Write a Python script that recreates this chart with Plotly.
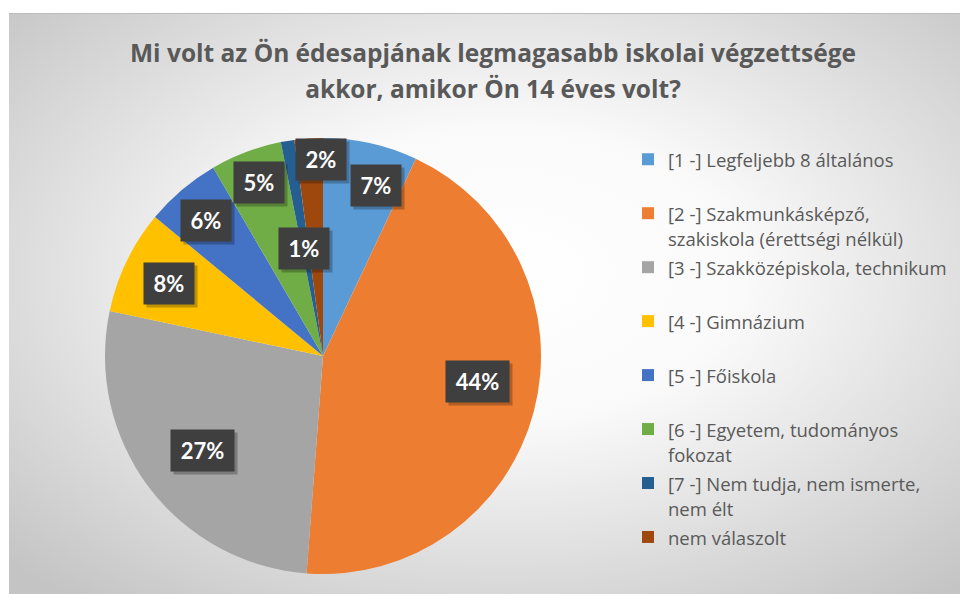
import base64
import math
import plotly.graph_objects as go

# ---------------- data ----------------
categories = [
    "[1 -] Legfeljebb 8 általános",
    "[2 -] Szakmunkásképző,<br>szakiskola (érettségi nélkül)",
    "[3 -] Szakközépiskola, technikum",
    "[4 -] Gimnázium",
    "[5 -] Főiskola",
    "[6 -] Egyetem, tudományos<br>fokozat",
    "[7 -] Nem tudja, nem ismerte,<br>nem élt",
    "nem válaszolt",
]
shares = [7.0, 44.2, 27.1, 7.7, 5.6, 5.3, 1.0, 2.1]
colors = ["#5B9BD5", "#ED7D31", "#A5A5A5", "#FFC000", "#4472C4", "#70AD47", "#255E91", "#9E480E"]
title_lines = ["Mi volt az Ön édesapjának legmagasabb iskolai végzettsége",
               "akkor, amikor Ön 14 éves volt?"]

# label placement style (radial fraction of radius, angle offset in degrees)
label_radius = [0.82, 0.72, 0.70, 0.78, 0.82, 0.85, 0.50, 0.90]
label_angle_shift = [4.7, -5.3, -1.2, -0.6, -0.4, 0.5, -0.6, 3.2]

# ---------------- geometry ----------------
W, H = 960, 594
cx, cy, R = 323, 356, 218

LEG_TXT = 18.5    # visible legend font size
LEG_ROW = 19.6    # layout font size -> row spacing
TTL_TXT = 24.5
TTL_ROW = 27.7


def leg_label(c):
    lines = c.split("<br>")
    if len(lines) == 1:
        lines.append(" ")
    return "<br>".join(f"<span style='font-size:{LEG_TXT}px'>{l}</span>" for l in lines)


legend_labels = [leg_label(c) for c in categories]
title_text = "<br>".join(f"<span style='font-size:{TTL_TXT}px'><b>{l}</b></span>" for l in title_lines)

fig = go.Figure()

fig.add_trace(go.Pie(
    labels=legend_labels,
    values=shares,
    sort=False,
    direction="clockwise",
    rotation=0,
    marker=dict(colors=colors, line=dict(width=0)),
    textinfo="none",
    hoverinfo="percent",
    domain=dict(x=[(cx - R) / W, (cx + R) / W], y=[1 - (cy + R) / H, 1 - (cy - R) / H]),
    showlegend=True,
))

# data labels computed from the values
total = sum(shares)
cum = 0.0
for v, rf, da in zip(shares, label_radius, label_angle_shift):
    mid = (cum + v / 2) / total * 360 + da
    cum += v
    px = cx + rf * R * math.sin(math.radians(mid))
    py = cy - rf * R * math.cos(math.radians(mid))
    txt = f"{round(v / total * 100)}%"
    w = 13 * len(txt) + 24
    common = dict(xref="paper", yref="paper", x=px / W, y=1 - py / H,
                  showarrow=False, width=w, height=41, borderpad=0,
                  xanchor="center", yanchor="middle")
    fig.add_annotation(text="", bgcolor="rgba(0,0,0,0.25)", xshift=3, yshift=-3, **common)
    fig.add_annotation(text=f"<b>{txt}</b>", bgcolor="#3f3f3f",
                       font=dict(family="Lato", size=22, color="white"), **common)

# background: radial gradient panel
svg = '''<svg xmlns="http://www.w3.org/2000/svg" width="951" height="581" viewBox="0 0 951 581" preserveAspectRatio="none">
<defs><radialGradient id="g" cx="52%" cy="45%" r="72%" fx="52%" fy="45%">
<stop offset="0%" stop-color="#ffffff"/><stop offset="35%" stop-color="#fafafa"/>
<stop offset="100%" stop-color="#c4c4c4"/></radialGradient></defs>
<rect x="0" y="0" width="951" height="581" fill="url(#g)"/>
<line x1="0" y1="0.5" x2="951" y2="0.5" stroke="#bbbbbb" stroke-width="1"/>
</svg>'''
uri = "data:image/svg+xml;base64," + base64.b64encode(svg.encode()).decode()
fig.add_layout_image(dict(source=uri, xref="paper", yref="paper", x=9 / W, y=1 - 13 / H,
                          sizex=(W - 9) / W, sizey=(H - 13) / H, sizing="stretch",
                          xanchor="left", yanchor="top", layer="below"))

fig.update_layout(
    width=W, height=H,
    margin=dict(l=0, r=0, t=0, b=0),
    paper_bgcolor="white",
    plot_bgcolor="rgba(0,0,0,0)",
    title=dict(text=title_text, x=493 / W, xanchor="center", y=1 - 62 / H, yanchor="top",
               font=dict(family="Open Sans", size=TTL_ROW, color="#595959")),
    legend=dict(x=628 / W, y=1 - 140 / H, xanchor="left", yanchor="top",
                valign="top", bgcolor="rgba(0,0,0,0)",
                font=dict(family="Open Sans", size=LEG_ROW, color="#595959")),
)

fig.write_html("out.html", config={"displayModeBar": False},
               post_script="document.body.style.margin='0px';")
